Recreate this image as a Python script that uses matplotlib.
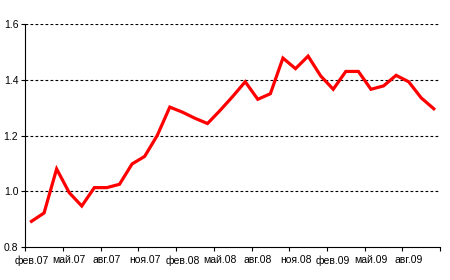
import matplotlib
matplotlib.use("Agg")
from matplotlib import pyplot as plt

plt.rcParams['font.family'] = ['Liberation Sans', 'DejaVu Sans']

month_names = ['янв', 'фев', 'мар', 'апр', 'май', 'июн',
               'июл', 'авг', 'сен', 'окт', 'ноя', 'дек']

# monthly series, фев.07 .. окт.09
values = [0.892, 0.922, 1.080, 0.995, 0.947, 1.013, 1.013, 1.025, 1.098, 1.125,
          1.200, 1.302, 1.284, 1.262, 1.243, 1.290, 1.340, 1.393, 1.330, 1.350,
          1.478, 1.440, 1.485, 1.414, 1.366, 1.430, 1.430, 1.366, 1.378, 1.416,
          1.393, 1.335, 1.296]

categories = []
for i in range(len(values)):
    m = 1 + i
    year = 7 + m // 12
    categories.append(f"{month_names[m % 12]}.{year:02d}")

y_ticks = [0.8, 1.0, 1.2, 1.4, 1.6]


def main():
    fig = plt.figure(figsize=(4.5, 2.8), dpi=100)
    ax = fig.add_axes([0.056, 0.118, 0.922, 0.796])

    x = list(range(len(values)))
    for v in y_ticks[1:]:
        ax.axhline(v, color='black', lw=0.8, ls=(0, (2.5, 2)), zorder=1)
    ax.plot(x, values, color='#ff0000', lw=2.3, solid_joinstyle='miter', zorder=3)

    ax.set_xlim(-0.5, len(values) - 0.5)
    ax.set_ylim(0.8, 1.6)
    ax.set_yticks(y_ticks)
    ax.set_yticklabels([f"{v:.1f}" for v in y_ticks])

    ax.set_xticks([i - 0.5 for i in range(0, len(values) + 1, 3)], minor=True)
    ax.set_xticks(x[::3])
    ax.set_xticklabels(categories[::3])
    ax.tick_params(axis='x', which='major', length=0, labelsize=7.5, pad=6)
    ax.tick_params(axis='x', which='minor', length=3, width=0.8, direction='out')
    ax.tick_params(axis='y', length=3, width=0.8, labelsize=7.5, pad=2)

    for s in ('top', 'right'):
        ax.spines[s].set_visible(False)
    for s in ('left', 'bottom'):
        ax.spines[s].set_linewidth(0.8)

    fig.savefig("out.png", dpi=100)


if __name__ == "__main__":
    main()
